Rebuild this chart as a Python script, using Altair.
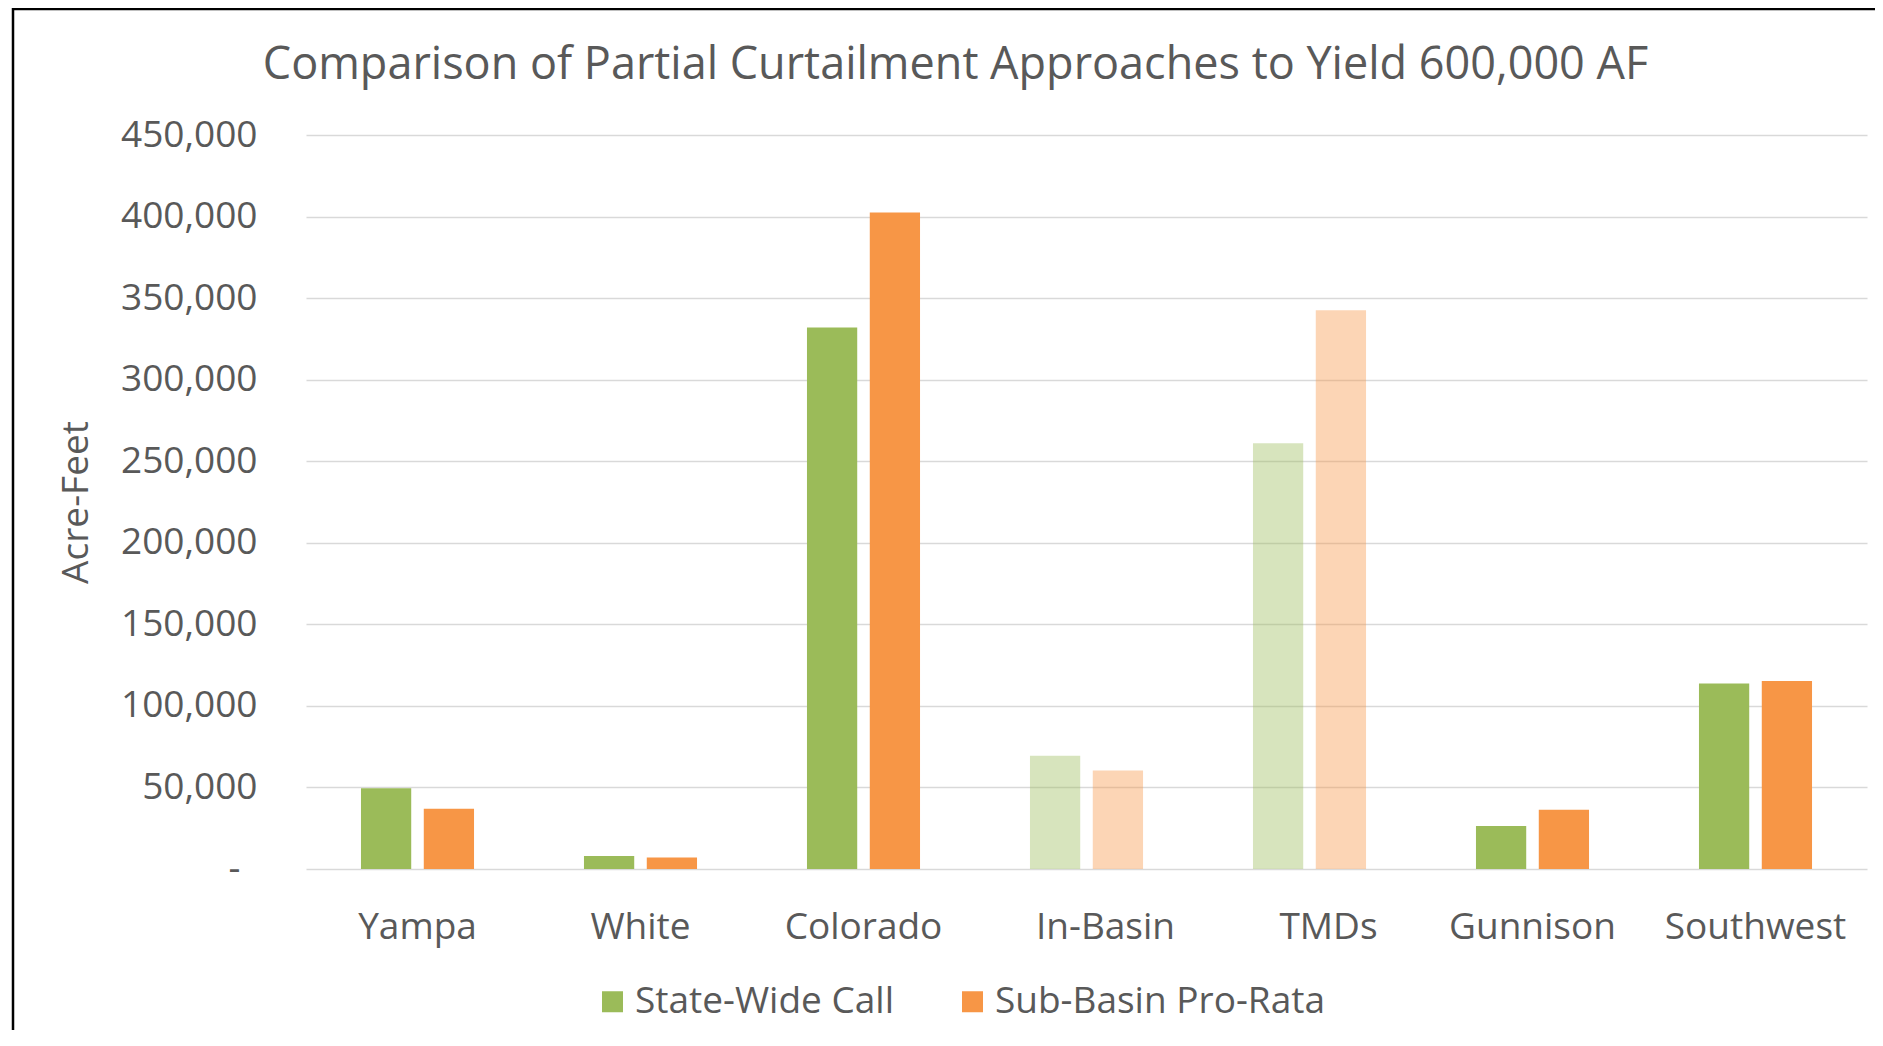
import altair as alt
import pandas as pd

categories = ["Yampa", "White", "Colorado", "In-Basin", "TMDs", "Gunnison", "Southwest"]
series_names = ["State-Wide Call", "Sub-Basin Pro-Rata"]
state_wide_call = [49500, 8000, 332000, 69400, 261000, 26300, 113800]
sub_basin_pro_rata = [37000, 7100, 402500, 60400, 342500, 36400, 115200]
faded_categories = ["In-Basin", "TMDs"]
y_ticks = [0, 50000, 100000, 150000, 200000, 250000, 300000, 350000, 400000, 450000]
colors = ["#9BBB59", "#F79646"]

rows = []
for i, c in enumerate(categories):
    for s, vals in zip(series_names, [state_wide_call, sub_basin_pro_rata]):
        rows.append({
            "basin": c,
            "series": s,
            "value": vals[i],
            "shade": "faded" if c in faded_categories else "full",
        })
df = pd.DataFrame(rows)

FONT = "Open Sans"
GREY = "#595959"

faded_test = " || ".join(f"datum.value == '{c}'" for c in faded_categories)

bars = alt.Chart(df).mark_bar().encode(
    x=alt.X("basin:N", sort=categories,
            scale=alt.Scale(paddingInner=0.493, paddingOuter=0.2465),
            axis=alt.Axis(title=None, labelAngle=0, ticks=False, domain=False, grid=False,
                          labelPadding=40, labelFontSize=37, labelFont=FONT,
                          labelColor=GREY, labelLimit=0,
                          labelOffset={"condition": {"test": faded_test, "value": 19},
                                       "value": 0})),
    xOffset=alt.XOffset("series:N", sort=series_names,
                        scale=alt.Scale(paddingInner=0.2, paddingOuter=0)),
    y=alt.Y("value:Q",
            scale=alt.Scale(domain=[0, 450000], nice=False),
            axis=alt.Axis(values=y_ticks, ticks=False, domain=False,
                          labelExpr="datum.value == 0 ? '-' : format(datum.value, ',')",
                          labelPadding={"condition": {"test": "datum.value == 0", "value": 66},
                                        "value": 49},
                          labelFontSize=37, labelFont=FONT,
                          labelColor=GREY, labelLimit=0,
                          gridColor="#D9D9D9", gridWidth=1.3,
                          title="Acre-Feet", titleFont=FONT, titleFontSize=37,
                          titleFontWeight="normal", titleColor=GREY,
                          titleAngle=270, titleX=-230, titleY=367,
                          titleAlign="center", titleBaseline="middle")),
    color=alt.Color("series:N", sort=series_names,
                    scale=alt.Scale(domain=series_names, range=colors),
                    legend=alt.Legend(title=None, orient="none", direction="horizontal",
                                      legendX=288, legendY=848,
                                      symbolType="square", symbolSize=441,
                                      symbolStrokeWidth=0, symbolOpacity=1,
                                      labelFont=FONT, labelFontSize=37,
                                      labelColor=GREY, labelOffset=4,
                                      labelLimit=0,
                                      columnPadding=60, padding=0)),
    opacity=alt.Opacity("shade:N",
                        scale=alt.Scale(domain=["full", "faded"], range=[1, 0.4]),
                        legend=None),
)

frame_data = alt.Data(values=[{"k": 1}])
left_border = alt.Chart(frame_data).mark_rule(color="#000000", strokeWidth=2.5).encode(
    x=alt.value(-293), y=alt.value(-127), y2=alt.value(900)
)
top_border = alt.Chart(frame_data).mark_rule(color="#000000", strokeWidth=2.5).encode(
    x=alt.value(-294), x2=alt.value(1580), y=alt.value(-126)
)

chart = alt.layer(bars, left_border, top_border).properties(
    width=1561,
    height=734,
    title=alt.TitleParams(
        "Comparison of Partial Curtailment Approaches to Yield 600,000 AF",
        font=FONT, fontSize=45, fontWeight="normal", color=GREY,
        anchor="middle", frame="group", dx=-131, offset=-117, baseline="alphabetic",
    ),
    autosize=alt.AutoSizeParams(type="none"),
    padding={"left": 298, "top": 127, "right": 8, "bottom": 161},
).configure(
    background="white",
    view=alt.ViewConfig(stroke="transparent", strokeWidth=0),
)

chart.save("out.html", embed_options={"renderer": "svg", "actions": False})
